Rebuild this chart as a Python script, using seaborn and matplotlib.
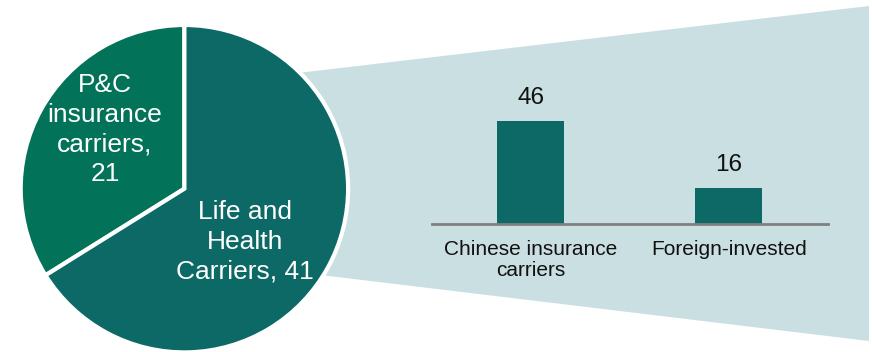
import matplotlib
matplotlib.use("Agg")
import matplotlib.pyplot as plt
from matplotlib.patches import Polygon
import seaborn as sns
import pandas as pd

# ---- data ----
pie_categories = ["P&C insurance carriers", "Life and Health Carriers"]
pie_values = [21, 41]
pie_labels = ["P&C\ninsurance\ncarriers,\n21", "Life and\nHealth\nCarriers, 41"]

bar_categories = ["Chinese insurance\ncarriers", "Foreign-invested"]
bar_values = [46, 16]

# ---- style ----
sns.set_style("white")
plt.rcParams["font.family"] = ["Liberation Sans", "DejaVu Sans"]

PIE_PC = "#027359"
PIE_LIFE = "#0C6966"
BAR = "#0C6966"
FAN = "#C9DFE2"

W, H = 872, 352
fig = plt.figure(figsize=(W / 100, H / 100), dpi=100)

# background fan shape (pixel coordinates)
ax_bg = fig.add_axes([0, 0, 1, 1])
ax_bg.set_xlim(0, W)
ax_bg.set_ylim(H, 0)
ax_bg.axis("off")
ax_bg.add_patch(Polygon([(250, 78.6), (869, 6), (869, 341), (250, 266.5)],
                        closed=True, facecolor=FAN, edgecolor="none"))

# bar chart
bx0, bx1 = 432, 827.5
by0, by1 = 223.5, 112.6
ax_bar = fig.add_axes([bx0 / W, (H - by0) / H, (bx1 - bx0) / W, (by0 - by1) / H])
ax_bar.patch.set_alpha(0)
df = pd.DataFrame({"cat": bar_categories, "val": bar_values})
sns.barplot(data=df, x="cat", y="val", ax=ax_bar, color=BAR, saturation=1,
            width=0.34, order=bar_categories, linewidth=0)
ax_bar.set_xlim(-0.5, 1.5)
ax_bar.set_ylim(0, 50)
for c in ax_bar.containers:
    ax_bar.bar_label(c, padding=9, fontsize=17.5, color="#111111")
for s in ["top", "right", "left"]:
    ax_bar.spines[s].set_visible(False)
ax_bar.spines["bottom"].set_color("#808080")
ax_bar.spines["bottom"].set_linewidth(2)
ax_bar.set_yticks([])
ax_bar.set_xlabel("")
ax_bar.set_ylabel("")
ax_bar.tick_params(axis="x", length=0, pad=12, labelsize=15, labelcolor="#111111")
for t in ax_bar.get_xticklabels():
    t.set_linespacing(1.15)

# pie chart
cx, cy, r = 184.4, 188.7, 163.7
ax_pie = fig.add_axes([(cx - r) / W, (H - cy - r) / H, 2 * r / W, 2 * r / H])
ax_pie.pie(pie_values, colors=[PIE_PC, PIE_LIFE], startangle=90, counterclock=True,
           wedgeprops=dict(edgecolor="white", linewidth=3))
ax_pie.set_xlim(-1, 1)
ax_pie.set_ylim(-1, 1)
ax_pie.axis("off")
ax_pie.text(-0.485, 0.359, pie_labels[0], ha="center", va="center", color="white",
            fontsize=19, linespacing=1.3)
ax_pie.text(0.37, -0.326, pie_labels[1], ha="center", va="center", color="white",
            fontsize=19, linespacing=1.3)

fig.savefig("out.png", dpi=100)
